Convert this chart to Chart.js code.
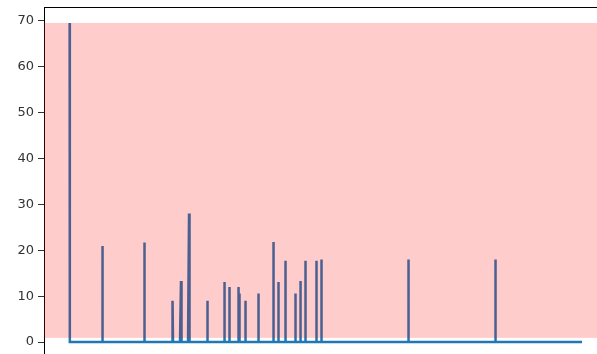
<!DOCTYPE html>
<html>
<head>
<meta charset="utf-8">
<script src="https://cdn.jsdelivr.net/npm/chart.js@4.4.1/dist/chart.umd.min.js"></script>
<style>
  html, body { margin: 0; padding: 0; background: #fff; overflow: hidden; width: 597px; height: 354px; }
  #wrap { position: absolute; left: 0; top: 0; width: 608px; height: 358px; }
</style>
</head>
<body>
<div id="wrap"><canvas id="c" width="608" height="358"></canvas></div>
<script>
// Hourly event counts over the observation window; hours without events are zero.
const firstDay = 0;
const lastDay = 511;
const eventDays   = [0,    0,    33,   33,   75,   75,  103, 111,  119,  137, 154,  159,  168,  169,  175, 188,  203,  208,  215,  225,  230,  235,  246,  251,  338,  424];
const eventHours  = [0,    1,    0,    1,    0,    1,   0,   0,    0,    0,   0,    0,    0,    0,    0,   0,    0,    0,    0,    0,    0,    0,    0,    0,    0,    0];
const eventCounts = [69.5, 12.5, 20.9, 13.2, 21.7, 9.9, 9.0, 13.3, 28.0, 9.0, 13.1, 12.0, 12.0, 10.6, 9.0, 10.6, 21.8, 13.1, 17.7, 10.6, 13.3, 17.7, 17.7, 18.0, 18.0, 18.0];

// Highlighted count band
const bandLow = 0.9;
const bandHigh = 69.5;

// y-axis tick labels
const yTicks = [0, 10, 20, 30, 40, 50, 60, 70];

const HOURS = 24;
const countByHour = new Map(eventDays.map((d, i) => [d * HOURS + eventHours[i], eventCounts[i]]));
const points = [];
for (let h = firstDay * HOURS; h <= lastDay * HOURS; h++) {
  points.push({ x: h / HOURS, y: countByHour.has(h) ? countByHour.get(h) : 0 });
}

const maxCount = Math.max(...eventCounts);
const xPad = 0.05 * (lastDay - firstDay);
const yPad = 0.05 * maxCount;

const bandAndFrame = {
  id: 'bandAndFrame',
  afterDatasetsDraw(chart) {
    const { ctx, chartArea: { left, right, top }, scales: { y } } = chart;
    const yTop = y.getPixelForValue(bandHigh);
    const yBot = y.getPixelForValue(bandLow);
    ctx.save();
    ctx.fillStyle = 'rgba(255, 0, 0, 0.2)';
    ctx.fillRect(left, yTop, right - left, yBot - yTop);
    ctx.strokeStyle = '#000';
    ctx.lineWidth = 1;
    ctx.beginPath();
    ctx.moveTo(left, Math.round(top) + 0.5);
    ctx.lineTo(right, Math.round(top) + 0.5);
    ctx.stroke();
    ctx.restore();
  }
};

new Chart(document.getElementById('c'), {
  type: 'line',
  data: {
    datasets: [{
      data: points,
      borderColor: '#1f77b4',
      borderWidth: 2.5,
      borderJoinStyle: 'miter',
      pointRadius: 0,
      tension: 0,
      fill: false
    }]
  },
  options: {
    responsive: false,
    animation: false,
    devicePixelRatio: 1,
    layout: { padding: { top: 7, left: 0, right: 0, bottom: 0 } },
    plugins: { legend: { display: false }, tooltip: { enabled: false } },
    scales: {
      x: {
        type: 'linear',
        display: false,
        min: firstDay - xPad,
        max: lastDay + xPad
      },
      y: {
        type: 'linear',
        min: -yPad,
        max: maxCount + yPad,
        afterFit(scale) { scale.width = 44; scale.paddingTop = 0; scale.paddingBottom = 0; },
        afterBuildTicks(scale) { scale.ticks = yTicks.map(v => ({ value: v })); },
        ticks: {
          includeBounds: false,
          padding: 4,
          color: '#333',
          font: { family: 'DejaVu Sans', size: 13 }
        },
        grid: { drawOnChartArea: false, tickLength: 6, color: '#333', tickWidth: 1 },
        border: { display: true, color: '#000', width: 1 }
      }
    }
  },
  plugins: [bandAndFrame]
});
</script>
</body>
</html>
